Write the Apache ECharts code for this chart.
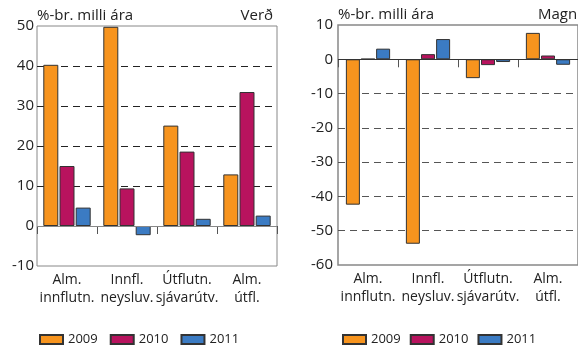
<!DOCTYPE html>
<html>
<head>
<meta charset="utf-8">
<script src="https://cdn.jsdelivr.net/npm/echarts@6/dist/echarts.min.js"></script>
<style>
  html, body { margin: 0; padding: 0; background: #fff; }
  #chart { width: 578px; height: 349px; }
</style>
</head>
<body>
<div id="chart"></div>
<script>
// Flokkar og gildi (lesin af myndinni)
const categories = ['Alm.\ninnflutn.', 'Innfl.\nneysluv.', 'Útflutn.\nsjávarútv.', 'Alm.\nútfl.']
const years = ['2009', '2010', '2011']
const verd2009 = [40.3, 49.8, 25.1, 12.9]
const verd2010 = [15.0, 9.4, 18.6, 33.5]
const verd2011 = [4.6, -2.3, 1.8, 2.6]
const magn2009 = [-42.4, -53.8, -5.5, 7.7]
const magn2010 = [0.1, 1.5, -1.7, 1.1]
const magn2011 = [3.1, 5.9, -0.8, -1.6]

const colors = ['#F7941E', '#B8135E', '#3B7BC3']
const font = 'Open Sans'

const zeroLine = color => ({
  silent: true,
  symbol: 'none',
  label: { show: false },
  lineStyle: { color: color, type: 'solid', width: 1 },
  data: [{ yAxis: 0 }]
})

const makeBar = (name, data, axis, width, idx, zc) => {
  const s = {
    name: name,
    type: 'bar',
    xAxisIndex: axis,
    yAxisIndex: axis,
    data: data,
    barWidth: width,
    barGap: '8%',
    itemStyle: { color: colors[idx], borderColor: '#333', borderWidth: 1 }
  }
  if (zc) s.markLine = zeroLine(zc)
  return s
}

const xAxisBase = (grid) => ({
  type: 'category',
  gridIndex: grid,
  data: categories,
  axisLine: { show: false },
  axisTick: { show: true, length: 8, lineStyle: { color: '#555' } },
  axisLabel: { color: '#222', fontSize: 14, fontFamily: font, lineHeight: 18, margin: 5, interval: 0 }
})

const titleStyle = { fontSize: 15, fontWeight: 'normal', color: '#222', fontFamily: font }
const legendBase = {
  data: years, top: 328, itemWidth: 23, itemHeight: 9,
  icon: 'rect', textStyle: { fontSize: 13, color: '#222', fontFamily: font }
}

const chart = echarts.init(document.getElementById('chart'))
chart.setOption({
  animation: false,
  textStyle: { fontFamily: font },
  title: [
    { text: '%-br. milli ára', left: 32, top: 3, textStyle: titleStyle },
    { text: 'Verð', right: 300, top: 3, textStyle: titleStyle },
    { text: '%-br. milli ára', left: 333, top: 2, textStyle: titleStyle },
    { text: 'Magn', left: 533, top: 2, textStyle: titleStyle }
  ],
  legend: [
    Object.assign({}, legendBase, { left: 34, itemGap: 12 }),
    Object.assign({}, legendBase, { left: 337, itemGap: 9 })
  ],
  grid: [
    { left: 37, top: 26, width: 240, height: 240, show: true, borderColor: '#888', borderWidth: 1 },
    { left: 338, top: 25, width: 244, height: 240, show: true, borderColor: '#888', borderWidth: 1.5 }
  ],
  xAxis: [xAxisBase(0), xAxisBase(1)],
  yAxis: [
    {
      type: 'value', gridIndex: 0, min: -10, max: 50, interval: 10,
      axisLine: { show: false }, axisTick: { show: false },
      axisLabel: { color: '#222', fontSize: 15, fontFamily: font, margin: 3 },
      splitLine: { show: true, lineStyle: { type: [7, 5], width: 1,
        color: ['rgba(0,0,0,0)', 'rgba(0,0,0,0)', '#222', '#222', '#222', '#222', 'rgba(0,0,0,0)'] } }
    },
    {
      type: 'value', gridIndex: 1, min: -60, max: 10, interval: 10,
      axisLine: { show: false }, axisTick: { show: false },
      axisLabel: { color: '#222', fontSize: 15, fontFamily: font, margin: 5 },
      splitLine: { show: true, lineStyle: { type: [7, 5], width: 1,
        color: ['rgba(0,0,0,0)', '#555', '#555', '#555', '#555', '#555', 'rgba(0,0,0,0)', 'rgba(0,0,0,0)'] } }
    }
  ],
  series: [
    makeBar('2009', verd2009, 0, 15, 0, '#888'),
    makeBar('2010', verd2010, 0, 15, 1),
    makeBar('2011', verd2011, 0, 15, 2),
    makeBar('2009', magn2009, 1, 14, 0, '#333'),
    makeBar('2010', magn2010, 1, 14, 1),
    makeBar('2011', magn2011, 1, 14, 2)
  ]
})
</script>
</body>
</html>
